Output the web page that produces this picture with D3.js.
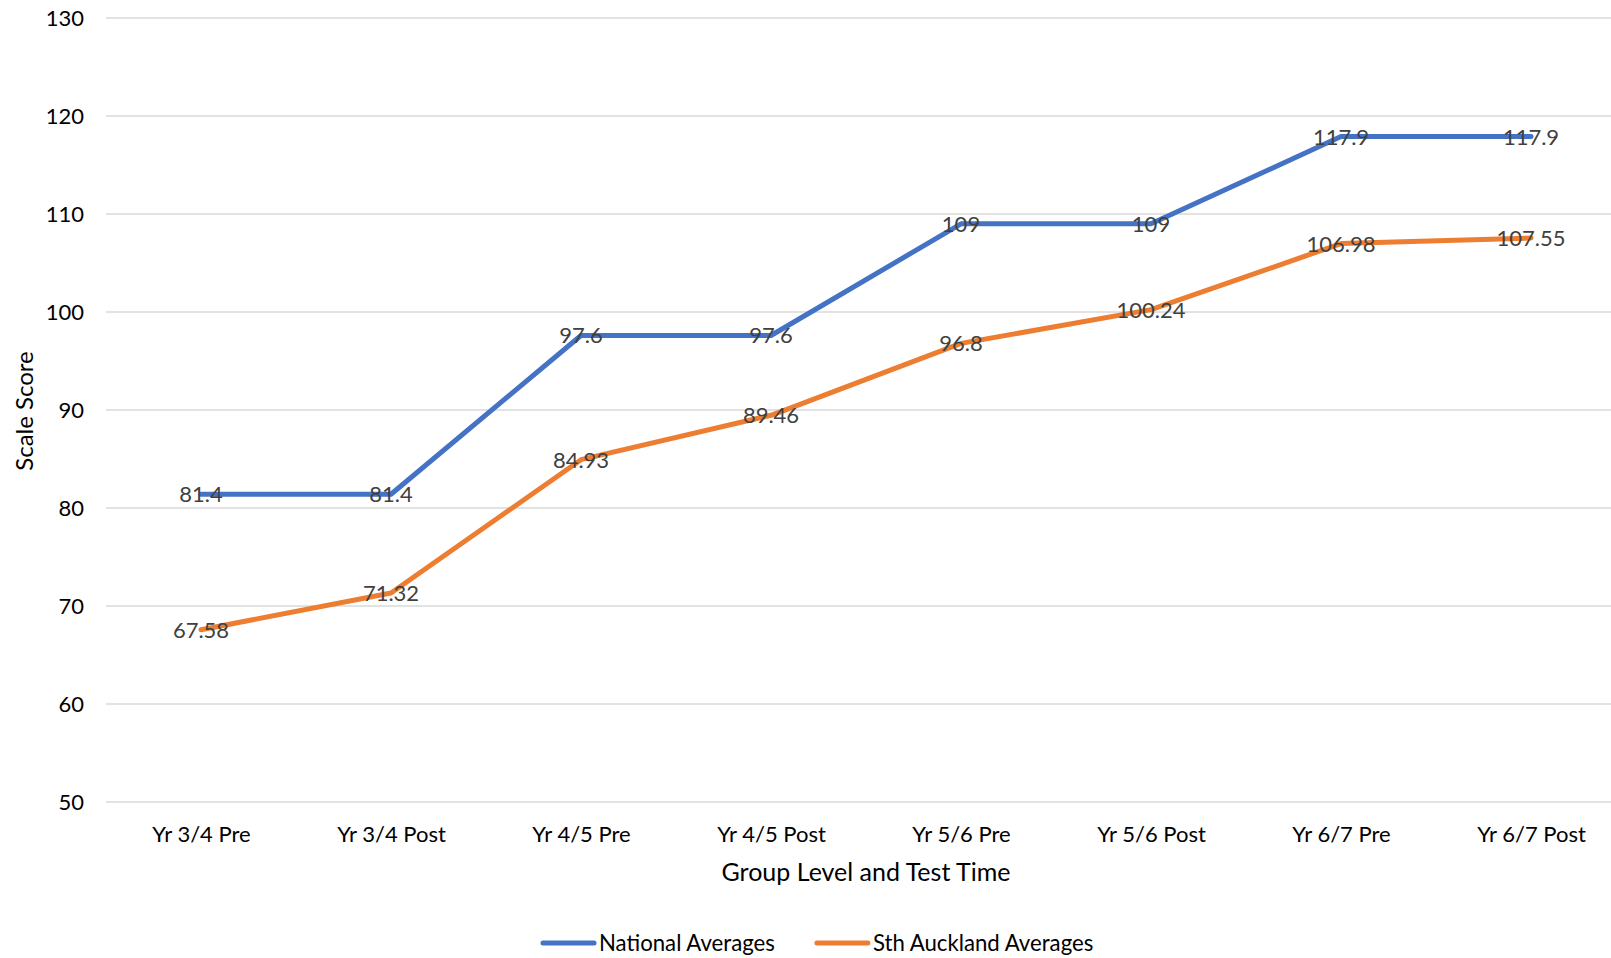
<!DOCTYPE html>
<html><head><meta charset="utf-8">
<script src="https://cdn.jsdelivr.net/npm/d3@7"></script>
<style>body{margin:0;background:#fff}text{font-family:Lato,"Open Sans",sans-serif}</style>
</head><body>
<svg id="c" width="1611" height="958"></svg>
<script>
const categories = ["Yr 3/4 Pre","Yr 3/4 Post","Yr 4/5 Pre","Yr 4/5 Post","Yr 5/6 Pre","Yr 5/6 Post","Yr 6/7 Pre","Yr 6/7 Post"];
const nationalAverages = [81.4, 81.4, 97.6, 97.6, 109, 109, 117.9, 117.9];
const sthAucklandAverages = [67.58, 71.32, 84.93, 89.46, 96.8, 100.24, 106.98, 107.55];
const yTicks = [50,60,70,80,90,100,110,120,130];
const seriesNames = ["National Averages","Sth Auckland Averages"];

const series = [
  {name: seriesNames[0], values: nationalAverages, color: "#4472C4"},
  {name: seriesNames[1], values: sthAucklandAverages, color: "#ED7D31"}
];

const svg = d3.select("#c");
const x = d3.scalePoint().domain(categories).range([106, 1626]).padding(0.5);
const y = d3.scaleLinear().domain([50,130]).range([802, 18]);

// gridlines
svg.append("g").selectAll("line").data(yTicks).join("line")
  .attr("x1", 106).attr("x2", 1626)
  .attr("y1", d => y(d)).attr("y2", d => y(d))
  .attr("stroke", "#D9D9D9").attr("stroke-width", 1.5);

// y axis labels
const yAxis = d3.axisLeft(y).tickValues(yTicks).tickSize(0).tickPadding(0);
const gy = svg.append("g").attr("transform", "translate(84,0)").call(yAxis);
gy.select(".domain").remove();
gy.selectAll("text").attr("font-size", 22).attr("fill", "#000").style("font-family", "Lato");

// x axis labels
const xAxis = d3.axisBottom(x).tickSize(0).tickPadding(0);
const gx = svg.append("g").attr("transform", "translate(0,826)").call(xAxis);
gx.select(".domain").remove();
gx.selectAll("text").attr("font-size", 22).attr("fill", "#000").attr("dy", "0.72em").style("font-family", "Lato");

// lines
const line = d3.line().x((d,i) => x(categories[i])).y(d => y(d));
series.forEach(s => {
  svg.append("path").datum(s.values)
    .attr("d", line).attr("fill", "none")
    .attr("stroke", s.color).attr("stroke-width", 5)
    .attr("stroke-linejoin", "round").attr("stroke-linecap", "round");
});

// data labels
series.forEach(s => {
  svg.append("g").selectAll("text").data(s.values).join("text")
    .attr("x", (d,i) => x(categories[i]))
    .attr("y", d => y(d))
    .attr("dy", "0.36em")
    .attr("text-anchor", "middle")
    .attr("font-size", 22).attr("fill", "#404040")
    .text(d => d);
});

// axis titles
svg.append("text").attr("x", 866).attr("y", 881).attr("text-anchor", "middle")
  .attr("font-size", 25).attr("fill", "#000").text("Group Level and Test Time");
svg.append("text").attr("transform", "translate(33,411) rotate(-90)").attr("text-anchor", "middle")
  .attr("font-size", 24).attr("fill", "#000").text("Scale Score");

// legend
let lx = 541;
series.forEach((s, i) => {
  const g = svg.append("g").attr("transform", `translate(${lx},943)`);
  g.append("line").attr("x1", 2).attr("x2", 53).attr("y1", 0).attr("y2", 0)
    .attr("stroke", s.color).attr("stroke-width", 5).attr("stroke-linecap", "round");
  const t = g.append("text").attr("x", 58).attr("y", 0).attr("dy", "0.36em")
    .attr("font-size", 22.2).attr("fill", "#000").text(s.name);
  lx += 58 + t.node().getComputedTextLength() + 40;
});
</script>
</body></html>
